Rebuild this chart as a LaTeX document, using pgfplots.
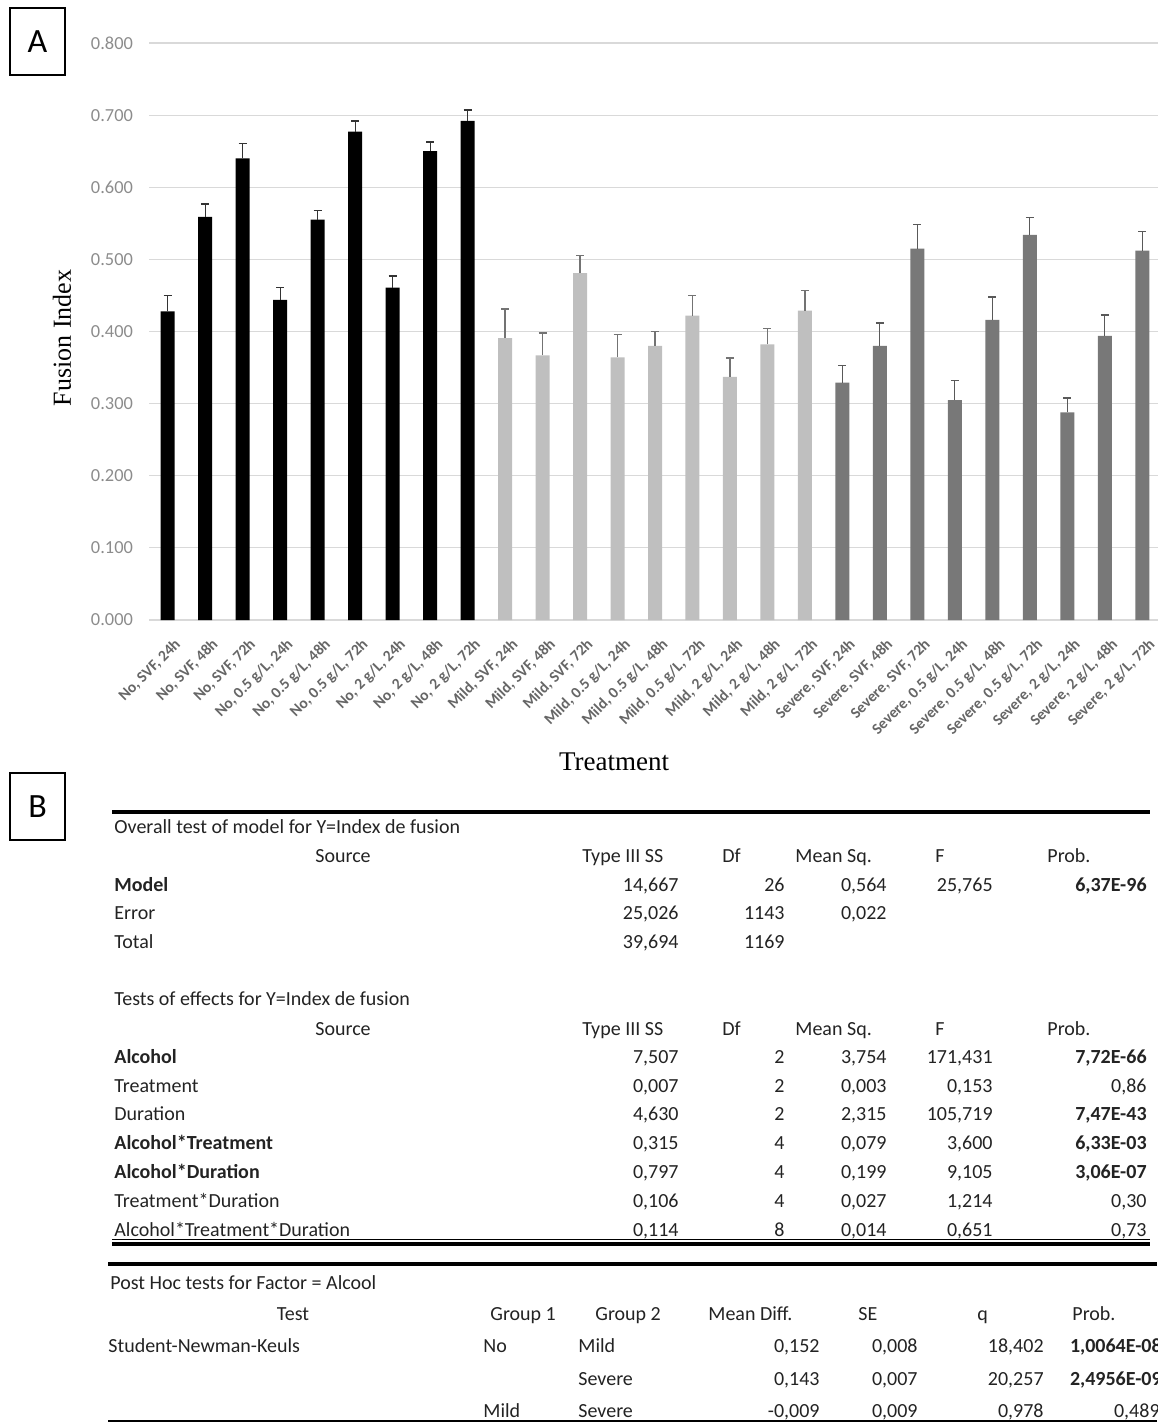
\documentclass[border=0pt]{standalone}
\usepackage{fontspec}
\setmainfont{Carlito}
\newfontfamily\serifl{Liberation Serif}
\usepackage{pgfplots}
\usepackage{pgfplotstable}
\pgfplotsset{compat=1.18}

\definecolor{nobar}{RGB}{0,0,0}
\definecolor{mildbar}{RGB}{191,191,191}
\definecolor{sevbar}{RGB}{120,120,120}
\definecolor{gridc}{RGB}{217,217,217}
\definecolor{tickc}{RGB}{140,140,140}
\definecolor{tabtxt}{RGB}{35,35,35}

% x, mean fusion index, upper error
\pgfplotstableread{
x y e
0 0.428 0.022
1 0.559 0.018
2 0.640 0.021
3 0.444 0.017
4 0.555 0.013
5 0.677 0.015
6 0.461 0.016
7 0.650 0.013
8 0.692 0.015
}\nodata
\pgfplotstableread{
x y e
9 0.391 0.040
10 0.367 0.031
11 0.481 0.024
12 0.364 0.032
13 0.380 0.020
14 0.422 0.028
15 0.337 0.026
16 0.382 0.022
17 0.429 0.028
}\milddata
\pgfplotstableread{
x y e
18 0.329 0.024
19 0.380 0.032
20 0.515 0.033
21 0.305 0.027
22 0.416 0.032
23 0.534 0.024
24 0.288 0.020
25 0.394 0.029
26 0.512 0.027
}\sevdata

\begin{document}
\begin{tikzpicture}
\useasboundingbox (0pt,0pt) rectangle (578.5pt,-711.5pt);

% ---------- panel A ----------
\begin{axis}[
  at={(74.5pt,-310pt)}, anchor=south west,
  scale only axis,
  width=506pt, height=288.5pt,
  xmin=-0.5, xmax=26.5,
  ymin=0, ymax=0.8,
  ytick={0,0.1,...,0.8},
  axis line style={draw=none},
  ymajorgrids,
  grid style={gridc, line width=0.6pt},
  major tick length=0pt,
  yticklabel style={font=\fontsize{9.2}{11}\selectfont, text=tickc, xshift=-4.5pt,
    /pgf/number format/.cd, fixed, fixed zerofill, precision=3, assume math mode=true},
  xtick={0,...,26},
  xticklabels={{No, SVF, 24h},{No, SVF, 48h},{No, SVF, 72h},
    {No, 0.5 g/L, 24h},{No, 0.5 g/L, 48h},{No, 0.5 g/L, 72h},
    {No, 2 g/L, 24h},{No, 2 g/L, 48h},{No, 2 g/L, 72h},
    {Mild, SVF, 24h},{Mild, SVF, 48h},{Mild, SVF, 72h},
    {Mild, 0.5 g/L, 24h},{Mild, 0.5 g/L, 48h},{Mild, 0.5 g/L, 72h},
    {Mild, 2 g/L, 24h},{Mild, 2 g/L, 48h},{Mild, 2 g/L, 72h},
    {Severe, SVF, 24h},{Severe, SVF, 48h},{Severe, SVF, 72h},
    {Severe, 0.5 g/L, 24h},{Severe, 0.5 g/L, 48h},{Severe, 0.5 g/L, 72h},
    {Severe, 2 g/L, 24h},{Severe, 2 g/L, 48h},{Severe, 2 g/L, 72h}},
  xticklabel style={rotate=45, anchor=north east, font=\bfseries\fontsize{7.8}{9}\selectfont,
    text=black!60, inner sep=1pt, yshift=-7pt, xshift=-3pt},
  ybar, bar width=7pt, bar shift=0pt,
  error bars/y dir=plus, error bars/y explicit,
]
\addplot[fill=nobar, draw=none,
  error bars/error bar style={line width=0.6pt, draw=black!80},
  error bars/error mark options={rotate=90, mark size=2pt, line width=0.7pt, draw=black!80}]
  table[x=x, y=y, y error=e] {\nodata};
\addplot[fill=mildbar, draw=none,
  error bars/error bar style={line width=0.6pt, draw=black!55},
  error bars/error mark options={rotate=90, mark size=2pt, line width=0.7pt, draw=black!55}]
  table[x=x, y=y, y error=e] {\milddata};
\addplot[fill=sevbar, draw=none,
  error bars/error bar style={line width=0.6pt, draw=black!65},
  error bars/error mark options={rotate=90, mark size=2pt, line width=0.7pt, draw=black!65}]
  table[x=x, y=y, y error=e] {\sevdata};
\end{axis}

\begin{scope}[x=0.5pt,y=-0.5pt,
  tab/.style={font=\fontsize{10}{12}\selectfont, text=tabtxt, inner sep=0pt},
  L/.style={tab, anchor=base west},
  R/.style={tab, anchor=base east},
  C/.style={tab, anchor=base}]
\draw[line width=0.6pt] (10,8) rectangle (65,75);
\node[font=\fontsize{17}{20}\selectfont] at (37.5,41.5) {A};

\node[rotate=90, font=\serifl\fontsize{13}{15}\selectfont] at (62,338) {Fusion Index};
\node[font=\serifl\fontsize{13.5}{15}\selectfont] at (614,762) {Treatment};

% ---------- panel B ----------
\draw[line width=0.6pt] (10,773) rectangle (65,840);
\node[font=\fontsize{17}{20}\selectfont] at (37.5,806.5) {B};

\draw[line width=2pt] (112,812) -- (1150,812);
\node[L] at (114,833) {Overall test of model for Y=Index de fusion};
\node[C] at (343,862) {Source};
\node[L] at (582,862) {Type III SS};
\node[L] at (722,862) {Df};
\node[L] at (795,862) {Mean Sq.};
\node[L] at (935,862) {F};
\node[L] at (1047,862) {Prob.};

\node[L,font=\bfseries\fontsize{10}{12}\selectfont] at (114,891) {Model};
\node[R] at (679,891) {14,667};
\node[R] at (785,891) {26};
\node[R] at (887,891) {0,564};
\node[R] at (993,891) {25,765};
\node[R,font=\bfseries\fontsize{10}{12}\selectfont] at (1147,891) {6,37E-96};

\node[L] at (114,919) {Error};
\node[R] at (679,919) {25,026};
\node[R] at (785,919) {1143};
\node[R] at (887,919) {0,022};

\node[L] at (114,948) {Total};
\node[R] at (679,948) {39,694};
\node[R] at (785,948) {1169};

\node[L] at (114,1005) {Tests of effects for Y=Index de fusion};
\node[C] at (343,1035) {Source};
\node[L] at (582,1035) {Type III SS};
\node[L] at (722,1035) {Df};
\node[L] at (795,1035) {Mean Sq.};
\node[L] at (935,1035) {F};
\node[L] at (1047,1035) {Prob.};

\foreach \yy/\src/\ss/\df/\ms/\ff/\pp/\bf in {
  1063/Alcohol/{7,507}/2/{3,754}/{171,431}/{7,72E-66}/1,
  1092/Treatment/{0,007}/2/{0,003}/{0,153}/{0,86}/0,
  1120/Duration/{4,630}/2/{2,315}/{105,719}/{7,47E-43}/2,
  1149/Alcohol*Treatment/{0,315}/4/{0,079}/{3,600}/{6,33E-03}/1,
  1178/Alcohol*Duration/{0,797}/4/{0,199}/{9,105}/{3,06E-07}/1,
  1207/Treatment*Duration/{0,106}/4/{0,027}/{1,214}/{0,30}/0,
  1236/Alcohol*Treatment*Duration/{0,114}/8/{0,014}/{0,651}/{0,73}/0}{
  \ifnum\bf=1
    \node[L,font=\bfseries\fontsize{10}{12}\selectfont] at (114,\yy) {\src};
  \else
    \node[L] at (114,\yy) {\src};
  \fi
  \node[R] at (679,\yy) {\ss};
  \node[R] at (785,\yy) {\df};
  \node[R] at (887,\yy) {\ms};
  \node[R] at (993,\yy) {\ff};
  \ifnum\bf=0
    \node[R] at (1147,\yy) {\pp};
  \else
    \node[R,font=\bfseries\fontsize{10}{12}\selectfont] at (1147,\yy) {\pp};
  \fi
}
\draw[line width=0.5pt] (112,1239) -- (1150,1239);
\draw[line width=1.8pt] (112,1244) -- (1150,1244);

\draw[line width=2pt] (108,1264) -- (1157,1264);
\node[L] at (110,1289) {Post Hoc tests for Factor = Alcool};
\node[C] at (293,1320) {Test};
\node[L] at (490,1320) {Group 1};
\node[L] at (595,1320) {Group 2};
\node[L] at (708,1320) {Mean Diff.};
\node[L] at (858,1320) {SE};
\node[L] at (977,1320) {q};
\node[L] at (1072,1320) {Prob.};

\node[L] at (108,1352) {Student-Newman-Keuls};
\node[L] at (483,1352) {No};
\node[L] at (578,1352) {Mild};
\node[R] at (820,1352) {0,152};
\node[R] at (918,1352) {0,008};
\node[R] at (1044,1352) {18,402};
\node[R,font=\bfseries\fontsize{10}{12}\selectfont] at (1162,1352) {1,0064E-08};

\node[L] at (578,1385) {Severe};
\node[R] at (820,1385) {0,143};
\node[R] at (918,1385) {0,007};
\node[R] at (1044,1385) {20,257};
\node[R,font=\bfseries\fontsize{10}{12}\selectfont] at (1162,1385) {2,4956E-09};

\node[L] at (483,1417) {Mild};
\node[L] at (578,1417) {Severe};
\node[R] at (820,1417) {-0,009};
\node[R] at (918,1417) {0,009};
\node[R] at (1044,1417) {0,978};
\node[R] at (1160,1417) {0,489};
\draw[line width=1pt] (108,1421) -- (1157,1421);
\end{scope}
\end{tikzpicture}
\end{document}
